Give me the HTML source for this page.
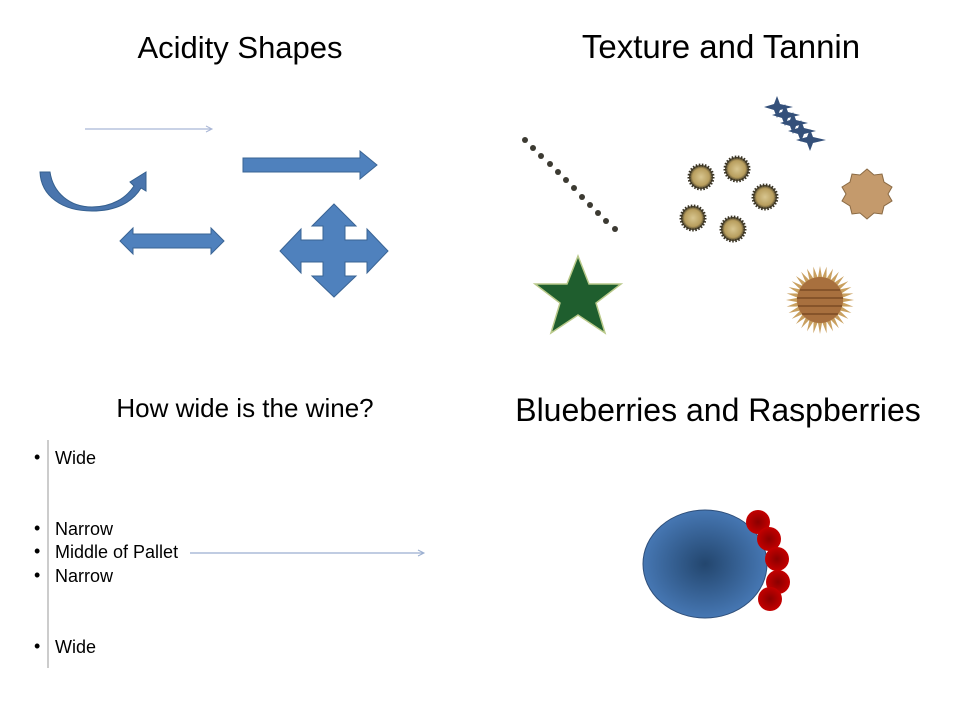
<!DOCTYPE html>
<html><head><meta charset="utf-8"><style>
html,body{margin:0;padding:0;background:#fff;}
svg{display:block;font-family:"Liberation Sans",sans-serif;}
</style></head><body>
<svg width="960" height="720" viewBox="0 0 960 720" xmlns="http://www.w3.org/2000/svg">
<defs>
<radialGradient id="bg" cx="50%" cy="50%" r="50%"><stop offset="0" stop-color="#23466e"/><stop offset="1" stop-color="#4677b3"/></radialGradient>
<radialGradient id="rg" cx="50%" cy="50%" r="50%"><stop offset="0" stop-color="#8a0000"/><stop offset="1" stop-color="#c40000"/></radialGradient>
<radialGradient id="gg" cx="50%" cy="50%" r="50%"><stop offset="0" stop-color="#d8c690"/><stop offset="0.7" stop-color="#b89e5e"/><stop offset="1" stop-color="#3a3424"/></radialGradient>
<polygon id="sp" points="0,-34 2.2,-22 -2.2,-22"/>
</defs>
<g fill="#000" text-anchor="middle">
<text x="240" y="58" font-size="31">Acidity Shapes</text>
<text x="721" y="58" font-size="33">Texture and Tannin</text>
<text x="245" y="417" font-size="26">How wide is the wine?</text>
<text x="718" y="421" font-size="32">Blueberries and Raspberries</text>
</g>
<line x1="85" y1="129" x2="211" y2="129" stroke="#a9b6d6" stroke-width="1.2"/>
<path d="M206,126 L212,129 L206,132" fill="none" stroke="#a9b6d6" stroke-width="1"/>
<path d="M243,158 H360 V151 L377,165 L360,179 V172 H243 Z" fill="#4f81bd" stroke="#3a6494" stroke-width="1"/>
<path d="M120,241 L133,228 V234 H211 V228 L224,241 L211,254 V248 H133 V254 Z" fill="#4f81bd" stroke="#3a6494" stroke-width="1"/>
<path d="M334,204 L356,226 H345 V240 H367 V229 L388,251 L367,273 V262 H345 V276 H356 L334,297 L312,276 H323 V262 H301 V273 L280,251 L301,229 V240 H323 V226 H312 Z" fill="#4f81bd" stroke="#3a6494" stroke-width="1"/>
<path d="M40,172 L50,172 C53,193 70,207 92,207 C112,207 126,198 134,186 L130,182 L146,172 L146,191 L141,188 C132,203 115,211 92,211 C62,211 41,196 40,172 Z" fill="#4a75ad" stroke="#35608f" stroke-width="1"/>
<g fill="#3c3a32">
<circle cx="525" cy="140" r="3"/><circle cx="533" cy="148" r="3"/><circle cx="541" cy="156" r="3"/><circle cx="550" cy="164" r="3"/><circle cx="558" cy="172" r="3"/><circle cx="566" cy="180" r="3"/><circle cx="574" cy="188" r="3"/><circle cx="582" cy="197" r="3"/><circle cx="590" cy="205" r="3"/><circle cx="598" cy="213" r="3"/><circle cx="606" cy="221" r="3"/><circle cx="615" cy="229" r="3"/>
</g>
<g fill="#34507a">
<path d="M777,96 L780,104 L793,107 L780,110 L777,118 L774,110 L764,107 L774,104Z"/>
<path d="M785,104 L788,112 L800,115 L788,118 L785,126 L782,118 L772,115 L782,112Z"/>
<path d="M793,112 L796,120 L808,123 L796,126 L793,134 L790,126 L780,123 L790,120Z"/>
<path d="M801,120 L804,128 L816,131 L804,134 L801,142 L798,134 L788,131 L798,128Z"/>
<path d="M810,129 L813,137 L826,140 L813,143 L810,151 L807,143 L796,140 L807,137Z"/>
</g>
<g stroke="#3a3424" stroke-width="3" stroke-dasharray="1.5 1.5" fill="url(#gg)">
<circle cx="701" cy="177" r="12"/><circle cx="737" cy="169" r="12"/><circle cx="765" cy="197" r="12"/><circle cx="693" cy="218" r="12"/><circle cx="733" cy="229" r="12"/>
</g>
<path d="M867,169 L874,175 L882,174 L884,182 L892,187 L888,194 L892,201 L884,206 L882,214 L874,213 L867,219 L860,213 L852,214 L850,206 L842,201 L846,194 L842,187 L850,182 L852,174 L860,175Z" fill="#c49a6c" stroke="#8a6a44" stroke-width="1"/>
<g transform="translate(820,300)">
<g fill="#c9a060">
<use href="#sp"/><use href="#sp" transform="rotate(11.25)"/><use href="#sp" transform="rotate(22.5)"/><use href="#sp" transform="rotate(33.75)"/><use href="#sp" transform="rotate(45)"/><use href="#sp" transform="rotate(56.25)"/><use href="#sp" transform="rotate(67.5)"/><use href="#sp" transform="rotate(78.75)"/><use href="#sp" transform="rotate(90)"/><use href="#sp" transform="rotate(101.25)"/><use href="#sp" transform="rotate(112.5)"/><use href="#sp" transform="rotate(123.75)"/><use href="#sp" transform="rotate(135)"/><use href="#sp" transform="rotate(146.25)"/><use href="#sp" transform="rotate(157.5)"/><use href="#sp" transform="rotate(168.75)"/><use href="#sp" transform="rotate(180)"/><use href="#sp" transform="rotate(191.25)"/><use href="#sp" transform="rotate(202.5)"/><use href="#sp" transform="rotate(213.75)"/><use href="#sp" transform="rotate(225)"/><use href="#sp" transform="rotate(236.25)"/><use href="#sp" transform="rotate(247.5)"/><use href="#sp" transform="rotate(258.75)"/><use href="#sp" transform="rotate(270)"/><use href="#sp" transform="rotate(281.25)"/><use href="#sp" transform="rotate(292.5)"/><use href="#sp" transform="rotate(303.75)"/><use href="#sp" transform="rotate(315)"/><use href="#sp" transform="rotate(326.25)"/><use href="#sp" transform="rotate(337.5)"/><use href="#sp" transform="rotate(348.75)"/>
</g>
<circle r="23" fill="#a8703e"/>
<g stroke="#7a4a24" stroke-width="1.5"><line x1="-20" y1="-10" x2="20" y2="-10"/><line x1="-23" y1="-2" x2="23" y2="-2"/><line x1="-22" y1="6" x2="22" y2="6"/><line x1="-18" y1="14" x2="18" y2="14"/></g>
</g>
<path d="M578,256 L589,284 L621,284 L596,303 L605,333 L578,315 L551,333 L560,303 L535,284 L567,284Z" fill="#1f5e2e" stroke="#b9c98a" stroke-width="1.5"/>
<line x1="48" y1="440" x2="48" y2="668" stroke="#999" stroke-width="1"/>
<g font-size="18" fill="#000">
<text x="34" y="463">•</text><text x="55" y="464">Wide</text>
<text x="34" y="534">•</text><text x="55" y="535">Narrow</text>
<text x="34" y="557">•</text><text x="55" y="558">Middle of Pallet</text>
<text x="34" y="581">•</text><text x="55" y="582">Narrow</text>
<text x="34" y="652">•</text><text x="55" y="653">Wide</text>
</g>
<line x1="190" y1="553" x2="423" y2="553" stroke="#9aaed0" stroke-width="1.2"/>
<path d="M418,550 L424,553 L418,556" fill="none" stroke="#9aaed0" stroke-width="1"/>
<ellipse cx="705" cy="564" rx="62" ry="54" fill="url(#bg)" stroke="#2f4f7a" stroke-width="1"/>
<g fill="url(#rg)">
<circle cx="758" cy="522" r="12"/><circle cx="769" cy="539" r="12"/><circle cx="777" cy="559" r="12"/><circle cx="778" cy="582" r="12"/><circle cx="770" cy="599" r="12"/>
</g>
</svg>
</body></html>
